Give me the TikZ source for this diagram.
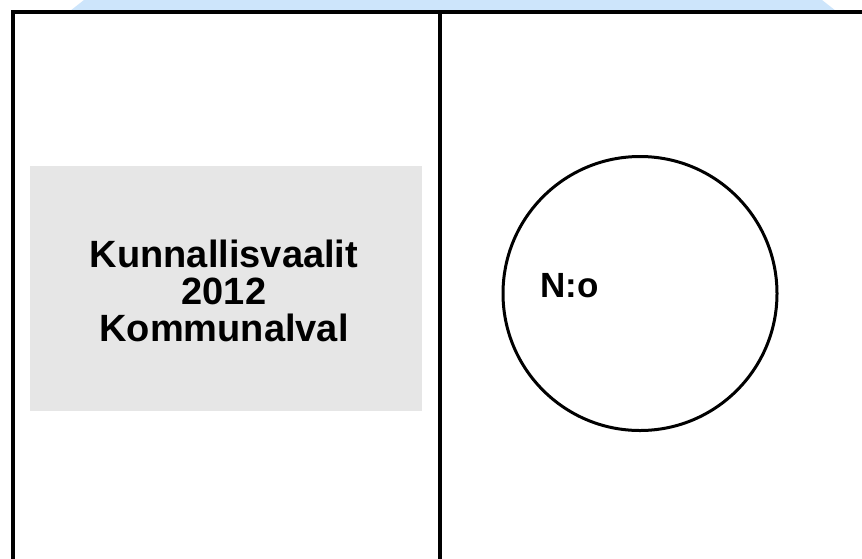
\documentclass[tikz,border=0pt]{standalone}
\usepackage{fontspec}
\setmainfont{Liberation Sans}
\definecolor{glow}{RGB}{205,229,251}
\definecolor{panel}{RGB}{230,230,230}
\begin{document}
\begin{tikzpicture}[x=1pt,y=-1pt,
  frameline/.style={draw=black,line width=4pt},
  label/.style={font=\bfseries, text=black, align=center, inner sep=0pt}]
\useasboundingbox (0,0) rectangle (862,558);
\fill[white] (0,0) rectangle (862,558);
% light blue glow at top
\fill[glow] (84,0) -- (70,11) -- (836,11) -- (822,0) -- cycle;
% gray panel
\node[fill=panel, minimum width=392pt, minimum height=245pt, inner sep=0pt, anchor=north west] (panel) at (30,166) {};
% frame
\coordinate (bl) at (13,562);
\coordinate (tl) at (13,12);
\coordinate (tr) at (866,12);
\coordinate (dt) at (440,12);
\coordinate (db) at (440,562);
\draw[frameline, line join=miter] (bl) -- (tl) -- (tr);
\draw[draw=black, line width=4.5pt] (dt) -- (db);
% text
\node[label, font=\fontsize{38}{37}\bfseries\selectfont, anchor=base] (t1) at (224,267) {Kunnallisvaalit};
\node[label, font=\fontsize{38}{37}\bfseries\selectfont, anchor=base] (t2) at (224,304) {2012};
\node[label, font=\fontsize{38}{37}\bfseries\selectfont, anchor=base] (t3) at (224,341) {Kommunalval};
% circle
\node[draw=black, line width=3pt, circle, minimum size=274pt, inner sep=0pt] (c) at (640,293.5) {};
\node[label, font=\fontsize{35}{35}\bfseries\selectfont, anchor=base west] (no) at (540,297) {N:o};
\end{tikzpicture}
\end{document}
